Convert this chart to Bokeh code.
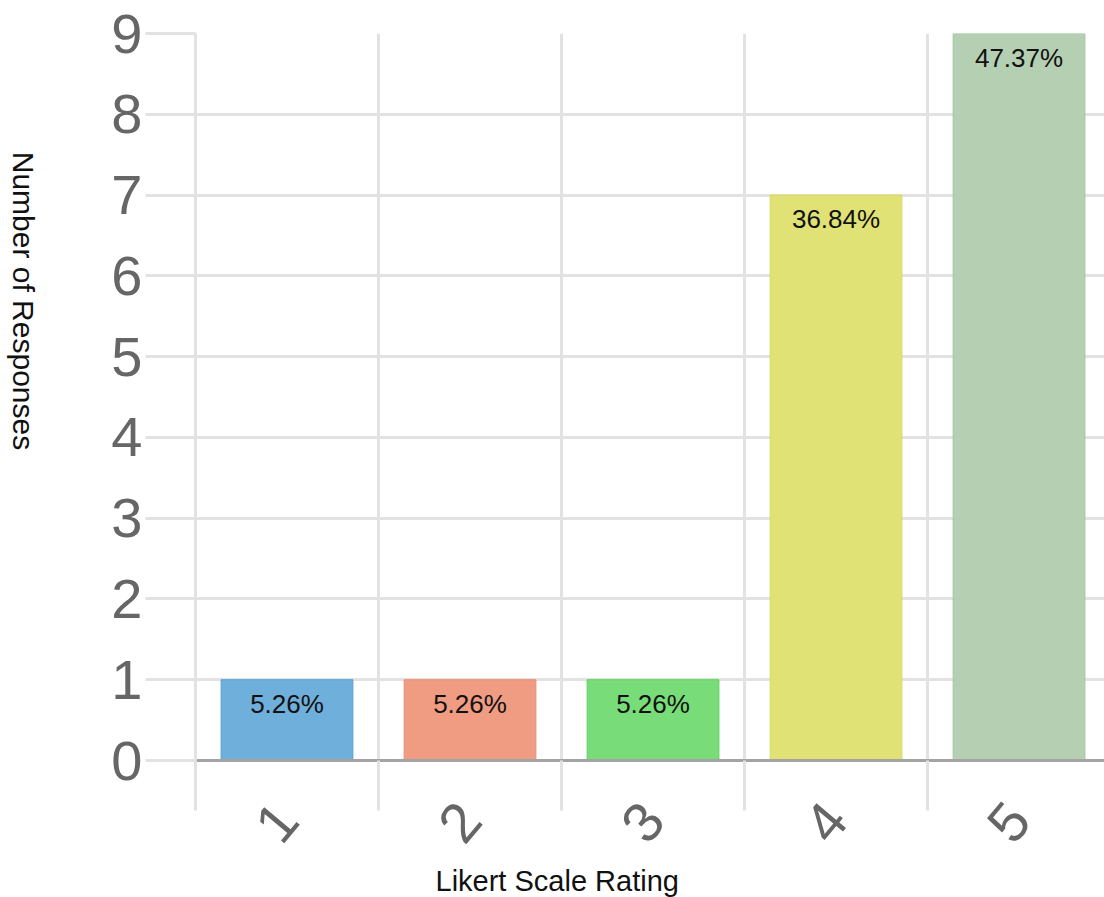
import math
from bokeh.plotting import figure
from bokeh.layouts import row
from bokeh.models import Range1d, FixedTicker, Title, ColumnDataSource
from bokeh.core.properties import value
from bokeh.embed import file_html
from bokeh.resources import INLINE

# ---- data ----
categories = ["1", "2", "3", "4", "5"]
responses = [1, 1, 1, 7, 9]
percent_labels = ["5.26%", "5.26%", "5.26%", "36.84%", "47.37%"]
bar_colors = ["#6EAFDB", "#F09C82", "#78DD78", "#E0E276", "#B4CFB1"]
bar_edges = ["#5A9FD0", "#E98F74", "#5ED25E", "#D8DA66", "#A6C6A3"]
y_ticks = [0, 1, 2, 3, 4, 5, 6, 7, 8, 9]
x_title = "Likert Scale Rating"
y_title = "Number of Responses"

FONT = "Liberation Sans"
GRID = "#e2e2e2"
H = 897
LEFT_W = 50

positions = [i + 1 for i in range(len(categories))]
boundaries = [i + 0.5 for i in range(len(categories) + 1)]

src = ColumnDataSource(dict(x=positions, top=responses, label=percent_labels,
                            color=bar_colors, edge=bar_edges))

# ---- narrow strip that carries the rotated y title ----
side = figure(width=LEFT_W, height=H, x_range=Range1d(0, LEFT_W), y_range=Range1d(0, H),
              output_backend="svg", toolbar_location=None,
              min_border=0, x_axis_type=None, y_axis_type=None)
side.outline_line_color = None
side.xgrid.visible = False
side.ygrid.visible = False
side.text(x=[23], y=[H - 330], text=[y_title], angle=-math.pi / 2,
          text_font=value(FONT), text_font_size="30px", text_color="#111111",
          text_align="center", text_baseline="middle")

# ---- main chart ----
p = figure(width=1104 - LEFT_W, height=H,
           x_range=Range1d(0.5, 5.467), y_range=Range1d(0, 9),
           output_backend="svg", toolbar_location=None,
           min_border_left=195 - LEFT_W, min_border_right=0,
           min_border_top=33, min_border_bottom=137)
p.outline_line_color = None
p.background_fill_color = "white"
p.border_fill_color = "white"

# grids
p.xgrid.ticker = FixedTicker(ticks=boundaries)
p.ygrid.ticker = FixedTicker(ticks=y_ticks)
for g in (p.xgrid, p.ygrid):
    g.grid_line_color = GRID
    g.grid_line_width = 3

# bars
p.vbar(x="x", top="top", bottom=0, width=0.72, source=src,
       fill_color="color", line_color="edge", line_width=1)

# value labels
p.text(x="x", y="top", text="label", source=src,
       text_font=value(FONT), text_font_size="26px", text_color="#111111",
       text_align="center", text_baseline="top", y_offset=9)

# x axis
xa = p.xaxis[0]
xa.ticker = FixedTicker(ticks=positions, minor_ticks=boundaries)
xa.major_label_overrides = {pos: cat for pos, cat in zip(positions, categories)}
xa.major_label_orientation = math.radians(50)
xa.major_label_text_font = FONT
xa.major_label_text_font_size = "56px"
xa.major_label_text_color = "#666666"
xa.major_label_standoff = 0
xa.major_tick_out = 0
xa.major_tick_in = 0
xa.major_tick_line_color = None
xa.minor_tick_out = 50
xa.minor_tick_in = 0
xa.minor_tick_line_color = GRID
xa.minor_tick_line_width = 3
xa.axis_line_color = "#a3a3a3"
xa.axis_line_width = 3

# y axis
ya = p.yaxis[0]
ya.ticker = FixedTicker(ticks=y_ticks)
ya.major_label_text_font = FONT
ya.major_label_text_font_size = "56px"
ya.major_label_text_color = "#666666"
ya.major_label_standoff = 3
ya.major_tick_out = 50
ya.major_tick_in = 0
ya.major_tick_line_color = GRID
ya.major_tick_line_width = 3
ya.minor_tick_line_color = None
ya.axis_line_color = GRID
ya.axis_line_width = 3

# x title
p.add_layout(Title(text=x_title, align="left", offset=240, standoff=2,
                   text_font=FONT, text_font_size="29px", text_font_style="normal",
                   text_color="#111111"), "below")

layout = row(side, p, spacing=0)
open("out.html", "w").write(file_html(layout, INLINE))
